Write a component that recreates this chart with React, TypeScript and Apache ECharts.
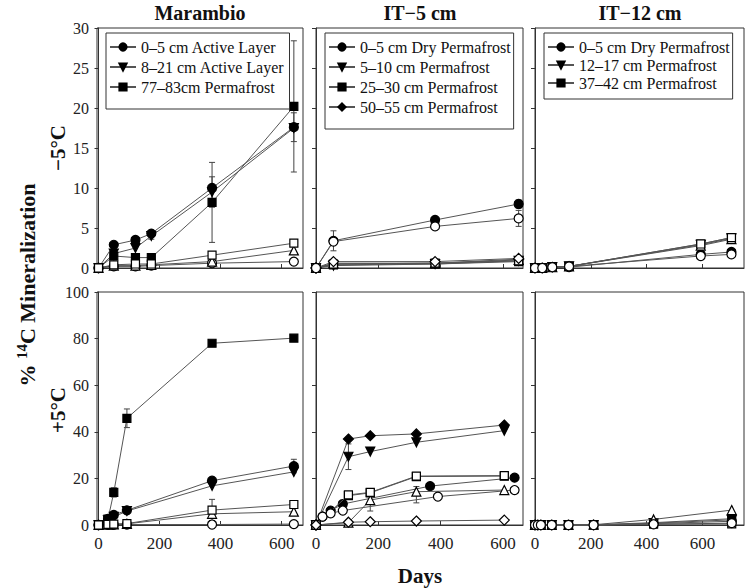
import React, { useEffect, useRef } from "react";
import * as echarts from "echarts";

// ---------- data ----------
// Marambio, -5 C
const marColdDays = [0, 50, 121, 173, 372, 640];
const marCold05 = [0, 2.9, 3.5, 4.3, 10.0, 17.6];
const marCold821 = [0, 1.8, 2.5, 4.0, 9.5, 17.5];
const marCold7783 = [0, 1.5, 1.3, 1.3, 8.2, 20.2];
const marCold05Open = [0, 0.2, 0.2, 0.3, 0.6, 0.8];
const marCold821Open = [0, 0.3, 0.3, 0.4, 0.8, 2.2];
const marCold7783Open = [0, 0.4, 0.5, 0.5, 1.6, 3.1];
const marColdErr = [[173, 4.0, 0.4], [372, 9.5, 1.9], [372, 8.2, 5.0], [640, 17.6, 1.8], [640, 20.2, 8.2]];

// Marambio, +5 C
const marWarmDays = [0, 31, 50, 93, 372, 640];
const marWarm05 = [0, 2.6, 4.3, 6.3, 19.0, 25.3];
const marWarm821 = [0, 2.0, 3.5, 6.0, 16.8, 22.8];
const marWarm7783 = [0, 2.5, 14.0, 45.8, 78.0, 80.2];
const marWarm05Open = [0, 0.1, 0.1, 0.2, 0.2, 0.4];
const marWarm821Open = [0, 0.2, 0.3, 0.5, 4.8, 5.7];
const marWarm7783Open = [0, 0.3, 0.4, 0.6, 6.4, 8.8];
const marWarmErr = [[50, 14.0, 2.0], [93, 45.8, 4.0], [372, 6.4, 4.6], [640, 25.3, 2.9]];

// IT-5 cm, -5 C
const it5ColdDays = [0, 56, 382, 650];
const it5Cold05 = [0, 3.4, 6.0, 8.0];
const it5Cold510 = [0, 0.3, 0.5, 0.9];
const it5Cold2530 = [0, 0.4, 0.5, 0.8];
const it5Cold5055 = [0, 0.5, 0.6, 1.1];
const it5Cold05Open = [0, 3.3, 5.2, 6.2];
const it5Cold510Open = [0, 0.6, 0.6, 1.0];
const it5Cold2530Open = [0, 0.5, 0.6, 0.9];
const it5Cold5055Open = [0, 0.8, 0.8, 1.2];
const it5ColdErr = [[56, 3.4, 1.25], [382, 6.0, 0.4], [650, 8.0, 0.5], [650, 6.2, 1.0]];

// IT-5 cm, +5 C
const it5WarmDays = [0, 104, 174, 322, 604];
const it5WarmCircleDays = [0, 21, 47, 86, 366, 637];
const it5WarmOpenCircleDays = [0, 21, 47, 86, 391, 637];
const it5Warm05 = [0, 3.6, 6.2, 9.0, 16.7, 20.3];
const it5Warm05Open = [0, 3.6, 5.0, 6.2, 12.2, 15.0];
const it5Warm510 = [0, 29.3, 31.5, 35.5, 40.5];
const it5Warm2530 = [0, 12.6, 13.8, 20.8, 21.0];
const it5Warm5055 = [0, 36.9, 38.3, 39.1, 42.9];
const it5Warm510Open = [0, 1.0, 10.7, 14.3, 15.0];
const it5Warm2530Open = [0, 12.9, 14.0, 21.0, 21.2];
const it5Warm5055Open = [0, 1.2, 1.4, 1.7, 2.1];
const it5WarmErr = [[104, 29.3, 5.5], [174, 8.0, 2.0], [322, 13.0, 3.5]];

// IT-12 cm, -5 C
const it12ColdDays = [0, 26, 62, 122, 594, 704];
const it12Cold05 = [0, 0, 0.1, 0.1, 1.7, 2.0];
const it12Cold1217 = [0, 0, 0.1, 0.2, 2.9, 3.7];
const it12Cold3742 = [0, 0, 0.1, 0.2, 3.0, 3.8];
const it12Cold05Open = [0, 0, 0.1, 0.2, 1.5, 1.7];
const it12Cold1217Open = [0, 0, 0.1, 0.2, 2.8, 3.6];
const it12Cold3742Open = [0, 0, 0.1, 0.2, 3.0, 3.8];

// IT-12 cm, +5 C
const it12WarmDays = [0, 10, 21, 60, 120, 210, 425, 705];
const it12Warm05 = [0, 0, 0, 0, 0, 0, 0.6, 1.6];
const it12Warm1217 = [0, 0, 0, 0, 0, 0, 0.8, 2.2];
const it12Warm3742 = [0, 0, 0, 0, 0, 0.1, 1.0, 2.7];
const it12Warm05Open = [0, 0, 0, 0, 0, 0, 0.3, 0.8];
const it12Warm1217Open = [0, 0, 0, 0, 0, 0.1, 2.4, 6.4];
const it12Warm3742Open = [0, 0, 0, 0, 0, 0, 0.4, 0.5];

const panelTitles = ["Marambio", "IT\u22125 cm", "IT\u221212 cm"];
const xTickValues = [0, 200, 400, 600];
const legendMarambio = ["0\u20135 cm Active Layer", "8\u201321 cm Active Layer", "77\u201383cm Permafrost"];
const legendIT5 = ["0\u20135 cm Dry Permafrost", "5\u201310 cm Permafrost", "25\u201330 cm Permafrost", "50\u201355 cm Permafrost"];
const legendIT12 = ["0\u20135 cm Dry Permafrost", "12\u201317 cm Permafrost", "37\u201342 cm Permafrost"];

// ---------- helpers ----------
const SERIF = '"Liberation Serif", "Times New Roman", serif';
const SYM: Record<string, { symbol: string; size: number; rotate: number }> = {
  circle: { symbol: "circle", size: 9, rotate: 0 },
  down: { symbol: "triangle", size: 9, rotate: 180 },
  up: { symbol: "triangle", size: 9, rotate: 0 },
  square: { symbol: "rect", size: 8, rotate: 0 },
  diamond: { symbol: "diamond", size: 10, rotate: 0 },
};

function line(name: string, idx: number, xs: number[], ys: number[], kind: string, filled: boolean) {
  const s = SYM[kind];
  return {
    type: "line",
    name,
    xAxisIndex: idx,
    yAxisIndex: idx,
    data: xs.map((x, i) => [x, ys[i]]),
    symbol: s.symbol,
    symbolSize: s.size,
    symbolRotate: s.rotate,
    showSymbol: true,
    clip: false,
    lineStyle: { color: "#555", width: 1 },
    itemStyle: { color: filled ? "#000" : "#fff", borderColor: "#000", borderWidth: 1.2 },
    emphasis: { disabled: true },
    z: filled ? 3 : 4,
  };
}

function errBars(idx: number, data: number[][]) {
  return {
    type: "custom",
    xAxisIndex: idx,
    yAxisIndex: idx,
    data,
    silent: true,
    z: 2,
    encode: { x: 0, y: 1 },
    renderItem: (_p: any, api: any) => {
      const x = api.value(0);
      const y = api.value(1);
      const e = api.value(2);
      const t = api.coord([x, y + e]);
      const b = api.coord([x, Math.max(0, y - e)]);
      const w = 3;
      const st = { stroke: "#444", lineWidth: 1 };
      return {
        type: "group",
        children: [
          { type: "line", shape: { x1: t[0], y1: t[1], x2: b[0], y2: b[1] }, style: st },
          { type: "line", shape: { x1: t[0] - w, y1: t[1], x2: t[0] + w, y2: t[1] }, style: st },
          { type: "line", shape: { x1: b[0] - w, y1: b[1], x2: b[0] + w, y2: b[1] }, style: st },
        ],
      };
    },
  };
}

const cols = [
  { left: 97, width: 206, min: -5, max: 670, cx: 200 },
  { left: 316, width: 207, min: 0, max: 664, cx: 420 },
  { left: 535, width: 209, min: 0, max: 749, cx: 640 },
];
const rows = [
  { top: 28, height: 240, max: 30, interval: 5 },
  { top: 292, height: 233, max: 100, interval: 20 },
];

function buildOption() {
  const grids: any[] = [];
  const xAxes: any[] = [];
  const yAxes: any[] = [];
  rows.forEach((r, ri) => {
    cols.forEach((c, ci) => {
      const gi = grids.length;
      grids.push({
        left: c.left,
        top: r.top,
        width: c.width,
        height: r.height,
        show: true,
        borderColor: "#333",
        borderWidth: 1,
        backgroundColor: "transparent",
      });
      xAxes.push({
        type: "value",
        gridIndex: gi,
        min: c.min,
        max: c.max,
        axisLine: { show: true, lineStyle: { color: "#333" } },
        splitLine: { show: false },
        axisTick: { show: true, inside: true, length: 4, customValues: [200, 400, 600], lineStyle: { color: "#333" } },
        axisLabel: {
          show: ri === 1,
          customValues: xTickValues,
          fontFamily: SERIF,
          fontSize: 17,
          color: "#222",
          margin: 10,
        },
      });
      yAxes.push({
        type: "value",
        gridIndex: gi,
        min: 0,
        max: r.max,
        interval: r.interval,
        axisLine: { show: true, lineStyle: { color: "#333" } },
        splitLine: { show: false },
        axisTick: { show: true, inside: false, length: 4, lineStyle: { color: "#333" } },
        axisLabel: { show: ci === 0, fontFamily: SERIF, fontSize: 16, color: "#222", margin: 8 },
      });
    });
  });

  const series: any[] = [
    // Marambio -5
    errBars(0, marColdErr),
    line(legendMarambio[0], 0, marColdDays, marCold05, "circle", true),
    line(legendMarambio[1], 0, marColdDays, marCold821, "down", true),
    line(legendMarambio[2], 0, marColdDays, marCold7783, "square", true),
    line("mc05o", 0, marColdDays, marCold05Open, "circle", false),
    line("mc821o", 0, marColdDays, marCold821Open, "up", false),
    line("mc7783o", 0, marColdDays, marCold7783Open, "square", false),
    // IT-5 -5
    errBars(1, it5ColdErr),
    line(legendIT5[0], 1, it5ColdDays, it5Cold05, "circle", true),
    line(legendIT5[1], 1, it5ColdDays, it5Cold510, "down", true),
    line(legendIT5[2], 1, it5ColdDays, it5Cold2530, "square", true),
    line(legendIT5[3], 1, it5ColdDays, it5Cold5055, "diamond", true),
    line("i5c510o", 1, it5ColdDays, it5Cold510Open, "up", false),
    line("i5c2530o", 1, it5ColdDays, it5Cold2530Open, "square", false),
    line("i5c5055o", 1, it5ColdDays, it5Cold5055Open, "diamond", false),
    line("i5c05o", 1, it5ColdDays, it5Cold05Open, "circle", false),
    // IT-12 -5
    line(legendIT12[0], 2, it12ColdDays, it12Cold05, "circle", true),
    line(legendIT12[1], 2, it12ColdDays, it12Cold1217, "down", true),
    line(legendIT12[2], 2, it12ColdDays, it12Cold3742, "square", true),
    line("i12c1217o", 2, it12ColdDays, it12Cold1217Open, "up", false),
    line("i12c3742o", 2, it12ColdDays, it12Cold3742Open, "square", false),
    line("i12c05o", 2, it12ColdDays, it12Cold05Open, "circle", false),
    // Marambio +5
    errBars(3, marWarmErr),
    line("mw05", 3, marWarmDays, marWarm05, "circle", true),
    line("mw821", 3, marWarmDays, marWarm821, "down", true),
    line("mw7783", 3, marWarmDays, marWarm7783, "square", true),
    line("mw05o", 3, marWarmDays, marWarm05Open, "circle", false),
    line("mw821o", 3, marWarmDays, marWarm821Open, "up", false),
    line("mw7783o", 3, marWarmDays, marWarm7783Open, "square", false),
    // IT-5 +5
    errBars(4, it5WarmErr),
    line("i5w05", 4, it5WarmCircleDays, it5Warm05, "circle", true),
    line("i5w510", 4, it5WarmDays, it5Warm510, "down", true),
    line("i5w2530", 4, it5WarmDays, it5Warm2530, "square", true),
    line("i5w5055", 4, it5WarmDays, it5Warm5055, "diamond", true),
    line("i5w05o", 4, it5WarmOpenCircleDays, it5Warm05Open, "circle", false),
    line("i5w510o", 4, it5WarmDays, it5Warm510Open, "up", false),
    line("i5w2530o", 4, it5WarmDays, it5Warm2530Open, "square", false),
    line("i5w5055o", 4, it5WarmDays, it5Warm5055Open, "diamond", false),
    // IT-12 +5
    line("i12w05", 5, it12WarmDays, it12Warm05, "circle", true),
    line("i12w1217", 5, it12WarmDays, it12Warm1217, "down", true),
    line("i12w3742", 5, it12WarmDays, it12Warm3742, "square", true),
    line("i12w1217o", 5, it12WarmDays, it12Warm1217Open, "up", false),
    line("i12w3742o", 5, it12WarmDays, it12Warm3742Open, "square", false),
    line("i12w05o", 5, it12WarmDays, it12Warm05Open, "circle", false),
  ];

  const legendBase = {
    orient: "vertical",
    itemWidth: 26,
    itemHeight: 9,
    borderColor: "#333",
    borderWidth: 1,
    selectedMode: false,
    textStyle: { fontFamily: SERIF, fontSize: 16, color: "#111" },
  };
  const legends = [
    { ...legendBase, data: legendMarambio, left: 106, top: 33, itemGap: 4, padding: [6, 5, 14, 3] },
    { ...legendBase, data: legendIT5, left: 325, top: 33, itemGap: 4, padding: [6, 3, 14, 3] },
    { ...legendBase, data: legendIT12, left: 544, top: 33, itemGap: 2, padding: [6, 3, 8, 3] },
  ];

  const titleFont = `bold 20px ${SERIF}`;
  const graphic: any[] = [
    ...panelTitles.map((t, i) => ({
      type: "text",
      x: cols[i].cx,
      y: 13,
      style: { text: t, font: titleFont, fill: "#111", align: "center", verticalAlign: "middle" },
    })),
    {
      type: "text",
      x: 420,
      y: 576,
      style: { text: "Days", font: `bold 21px ${SERIF}`, fill: "#111", align: "center", verticalAlign: "middle" },
    },
    {
      type: "text",
      x: 58,
      y: 148,
      rotation: Math.PI / 2,
      style: { text: "\u22125\u00b0C", font: `bold 21px ${SERIF}`, fill: "#111", align: "center", verticalAlign: "middle" },
    },
    {
      type: "text",
      x: 58,
      y: 410,
      rotation: Math.PI / 2,
      style: { text: "+5\u00b0C", font: `bold 21px ${SERIF}`, fill: "#111", align: "center", verticalAlign: "middle" },
    },
    {
      type: "text",
      x: 27,
      y: 285,
      rotation: Math.PI / 2,
      style: {
        text: "{a|% }{s|14}{a|C Mineralization}",
        align: "center",
        verticalAlign: "middle",
        rich: {
          a: { font: `bold 22px ${SERIF}`, fill: "#111", lineHeight: 26 },
          s: { font: `bold 15px ${SERIF}`, fill: "#111", lineHeight: 26, padding: [0, 0, 10, 0] },
        },
      },
    },
  ];

  return {
    animation: false,
    backgroundColor: "#fff",
    grid: grids,
    xAxis: xAxes,
    yAxis: yAxes,
    legend: legends,
    series,
    graphic,
  };
}

export default function App() {
  const ref = useRef<HTMLDivElement>(null);
  useEffect(() => {
    if (!ref.current) return;
    const chart = echarts.init(ref.current, undefined, { renderer: "svg" });
    chart.setOption(buildOption() as any);
    return () => chart.dispose();
  }, []);
  return (
    <div
      ref={ref}
      style={{ position: "absolute", left: 0, top: 0, width: 747, height: 588, background: "#fff" }}
    />
  );
}
